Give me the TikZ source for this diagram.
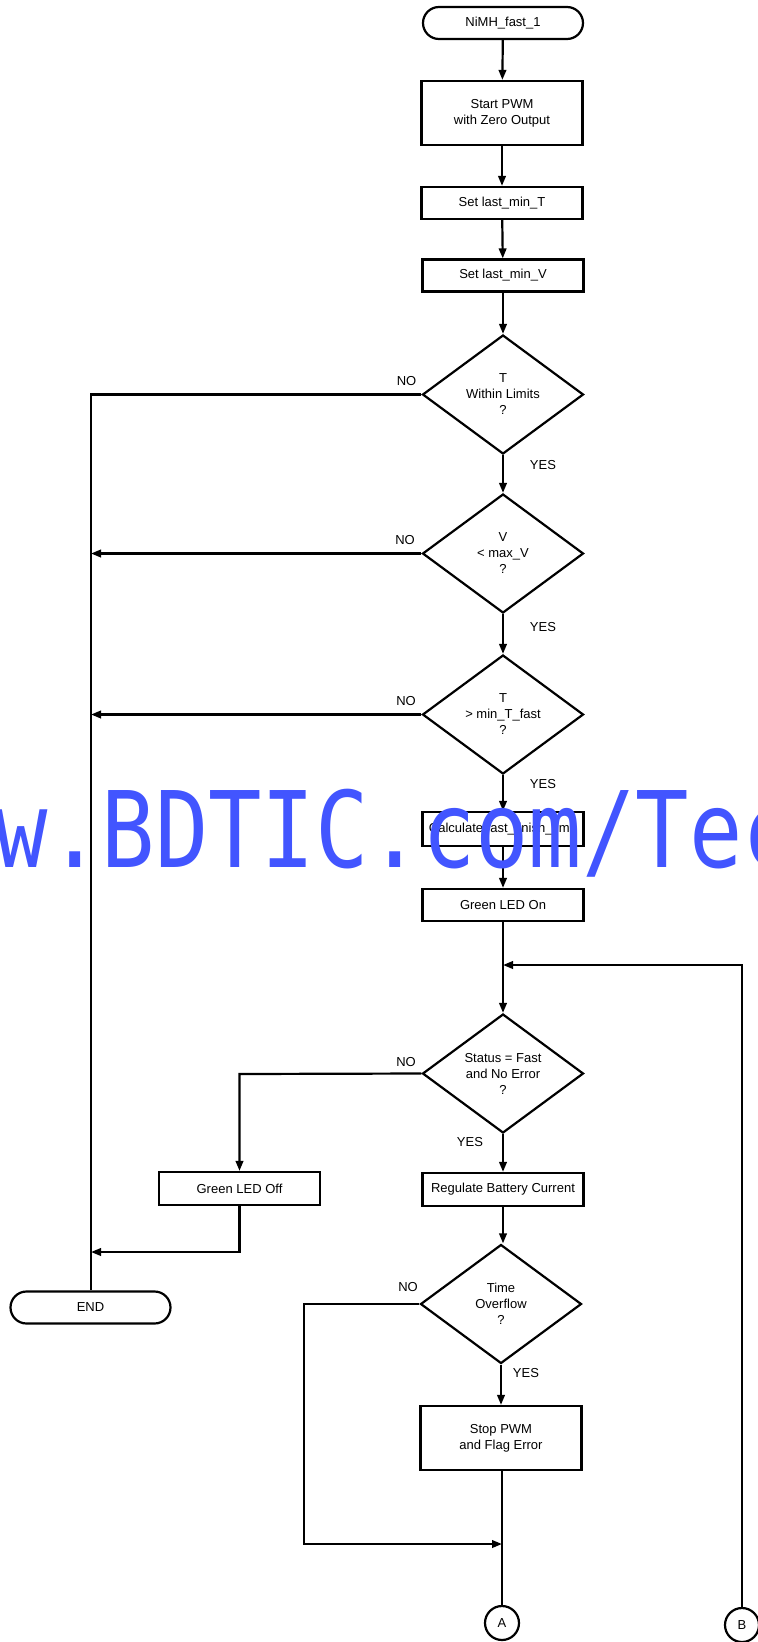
\documentclass[tikz,border=0pt]{standalone}
\usepackage{fontspec}
\setmainfont{Liberation Sans}
\newfontfamily\wmfont[FakeStretch=0.84]{DejaVu Sans Mono}
\usetikzlibrary{shapes.geometric,arrows.meta}
\definecolor{wmblue}{RGB}{66,85,255}
\begin{document}
\begin{tikzpicture}[x=1pt,y=-1pt,
  base/.style={draw, line width=2.2pt, font=\fontsize{13}{16}\selectfont, align=center, inner sep=0pt},
  proc/.style={base, rectangle, minimum width=161pt, minimum height=32pt},
  term/.style={base, rectangle, rounded corners=16pt, minimum width=160pt, minimum height=32pt},
  dec/.style={base, diamond, aspect=1.35, minimum width=161pt, minimum height=119pt},
  conn/.style={base, circle, minimum size=34pt},
  link/.style={line width=2.2pt},
  arr/.style={link, -{Triangle[length=10pt,width=7.5pt]}},
  lbl/.style={font=\fontsize{13}{16}\selectfont, inner sep=0pt}
]
\useasboundingbox (0,0) rectangle (758,1642);

% main column
\node[term] (start) at (503,23) {NiMH\_fast\_1};
\node[proc, minimum height=64pt] (pwm) at (502,113) {Start PWM\\with Zero Output};
\node[proc] (setT) at (502,203) {Set last\_min\_T};
\node[proc] (setV) at (503,275.5) {Set last\_min\_V};
\node[dec] (d1) at (503,394.5) {T\\Within Limits\\?};
\node[dec] (d2) at (503,553.5) {V\\< max\_V\\?};
\node[dec] (d3) at (503,714.5) {T\\> min\_T\_fast\\?};
\node[proc, minimum height=34pt] (calc) at (503,829) {Calculate fast\_finish\_time};
\node[proc] (led) at (503,905) {Green LED On};
\node[dec] (d4) at (503,1073.5) {Status = Fast\\and No Error\\?};
\node[proc, minimum height=33pt] (ledoff) at (239.5,1188.5) {Green LED Off};
\node[proc, minimum height=33pt] (reg) at (503,1189.5) {Regulate Battery Current};
\node[dec] (d5) at (501,1304) {Time\\Overflow\\?};
\node[proc, minimum height=64pt] (stop) at (501,1438) {Stop PWM\\and Flag Error};
\node[term] (end) at (90.5,1307.5) {END};
\node[conn] (A) at (502,1623) {A};
\node[conn] (B) at (742,1625) {B};

% helper coordinates
\coordinate (lx1) at (91,394.5);
\coordinate (lx2) at (91,553.5);
\coordinate (lx3) at (91,714.5);
\coordinate (lx4) at (91,1252);
\coordinate (merge) at (503,965);
\coordinate (bturn) at (742,965);
\coordinate (offturn) at (239.5,1074);
\coordinate (offdown) at (239.5,1252);
\coordinate (noturn) at (304,1304);
\coordinate (nodown) at (304,1544);
\coordinate (join) at (502,1544);

% vertical flow
\draw[arr] (start) -- (pwm);
\draw[arr] (pwm) -- (setT);
\draw[arr] (setT) -- (setV);
\draw[arr] (setV) -- (d1);
\draw[arr] (d1) -- (d2);
\draw[arr] (d2) -- (d3);
\draw[arr] (d3) -- (calc);
\draw[arr] (calc) -- (led);
\draw[arr] (led) -- (d4);
\draw[arr] (d4) -- (reg);
\draw[arr] (reg.south) -- (reg.south |- d5.north);
\draw[arr] (d5) -- (stop);
\draw[link] (stop.south -| A.north) -- (A.north);

% NO branches to END
\draw[link] (d1.west) -- (lx1) -- (lx1 |- end.north);
\draw[arr] (d2.west) -- (lx2);
\draw[arr] (d3.west) -- (lx3);
\draw[arr] (d4.west) -- (offturn) -- (ledoff.north);
\draw[arr] (ledoff.south) -- (offdown) -- (lx4);

% loop back from B
\draw[arr] (B.north) -- (bturn) -- (merge);

% time overflow NO
\draw[arr] (d5.west) -- (noturn) -- (nodown) -- (join);

% labels
\node[lbl] (no1) at (406.5,381) {NO};
\node[lbl] (yes1) at (543,465) {YES};
\node[lbl] (no2) at (405,540) {NO};
\node[lbl] (yes2) at (543,627) {YES};
\node[lbl] (no3) at (406,701) {NO};
\node[lbl] (yes3) at (543,784) {YES};
\node[lbl] (no4) at (406,1062) {NO};
\node[lbl] (yes4) at (470,1142) {YES};
\node[lbl] (no5) at (408,1287) {NO};
\node[lbl] (yes5) at (526,1373) {YES};

% watermark
\node[anchor=base west, inner sep=0pt, text=wmblue, font=\wmfont\fontsize{105.6}{110}\selectfont] (wm) at (-112,867) {www.BDTIC.com/Tech};
\end{tikzpicture}
\end{document}
